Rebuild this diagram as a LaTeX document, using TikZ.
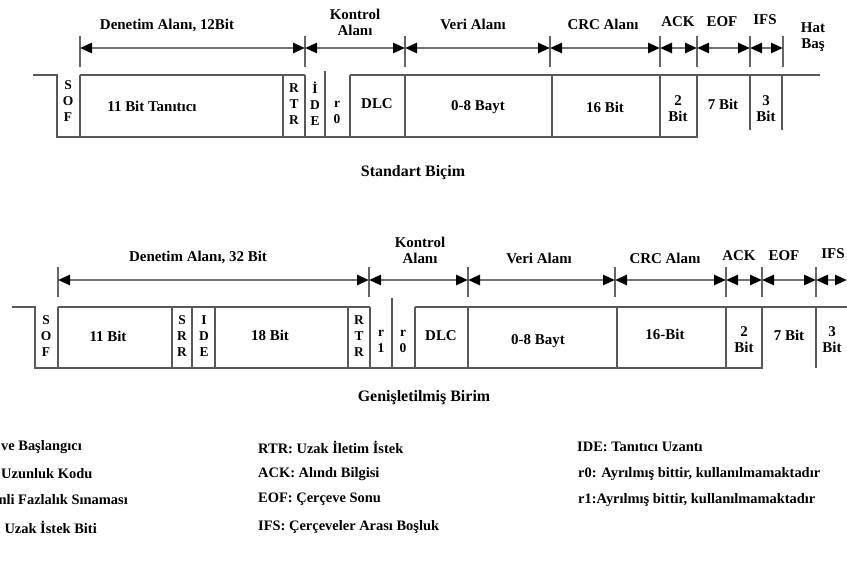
\documentclass[tikz,border=0pt]{standalone}
\usepackage{fontspec}
\setmainfont{Liberation Serif}
\usetikzlibrary{arrows.meta,positioning}

\tikzset{
  hat/.style={line width=1.8bp, draw=black!65},
  cizgi/.style={line width=1.5bp, draw=black!60},
  olcu/.style={line width=2.6bp, draw=black!55,
    {Triangle[length=12bp,width=10bp,color=black]}-{Triangle[length=12bp,width=10bp,color=black]}},
  etiket/.style={font=\bfseries\fontsize{15}{16}\selectfont, inner sep=0pt, align=center},
  harf/.style={etiket, font=\bfseries\fontsize{13.5}{16}\selectfont},
  baslik/.style={font=\bfseries\fontsize{16}{18}\selectfont, inner sep=0pt},
  aciklama/.style={font=\bfseries\fontsize{14.5}{16}\selectfont, inner sep=0pt}
}

\begin{document}
\begin{tikzpicture}[x=1bp, y=-1bp]
	\useasboundingbox (0,0) rectangle (847,581);
	
	% --- 1. Standart biçim: çerçeve ---
	\draw[hat] (33,75) -- (57,75) -- (57,137) -- (697,137) -- (697,75);
	\draw[hat] (80,75) -- (305,75);
	\draw[hat] (350,75) -- (820,75);
	\foreach \x in {80,283,305,350,405,552,660}
		\draw[hat] (\x,75) -- (\x,137);
	\draw[hat] (325,71) -- (325,137);
	\foreach \x in {750,782}
		\draw[hat] (\x,75) -- (\x,130);
	
	% --- 2. Standart biçim: ölçü okları ---
	\foreach \n/\x in {a/80,b/305,c/405,d/550,e/660,f/697,g/750,h/783} {
		\coordinate (s\n) at (\x,48);
		\draw[cizgi] (\x,36) -- (\x,67);
	}
	\foreach \p/\q in {a/b,b/c,c/d,d/e,e/f,f/g,g/h}
		\draw[olcu] (s\p) -- (s\q);
	
	% --- 3. Standart biçim: etiketler ---
	\node[etiket] (sDen) at (167,25) {Denetim Alanı, 12Bit};
	\node[etiket] (sKon) at (355,22) {Kontrol\\Alanı};
	\node[etiket] (sVer) at (473,24) {Veri Alanı};
	\node[etiket] (sCrc) at (603,24) {CRC Alanı};
	\node[etiket] (sAck) at (678,22) {ACK};
	\node[etiket] (sEof) at (722,22) {EOF};
	\node[etiket] (sIfs) at (765,20) {IFS};
	\node[etiket] (sHat) at (813,37) {Hat\\Baş};
	
	\node[harf] (sSof) at (68,101) {S\\O\\F};
	\node[etiket] (sTan) at (152,106) {11 Bit Tanıtıcı};
	\node[harf] (sRtr) at (294,104) {R\\T\\R};
	\node[harf] (sIde) at (315,104) {İ\\D\\E};
	\node[harf] (sR0) at (337,112) {r\\0};
	\node[etiket] (sDlc) at (377,104) {DLC};
	\node[etiket] (sVeri) at (478,107) {0-8 Bayt};
	\node[etiket] (sCrcB) at (605,107) {16 Bit};
	\node[etiket] (sAckB) at (678,109) {2\\Bit};
	\node[etiket] (sEofB) at (723,104) {7 Bit};
	\node[etiket] (sIfsB) at (766,109) {3\\Bit};
	
	\node[baslik] (stdB) at (413,173) {Standart Biçim};
	
	% --- 4. Genişletilmiş biçim: çerçeve ---
	\draw[hat] (12,307) -- (35,307) -- (35,368) -- (762,368) -- (762,307);
	\draw[hat] (58,307) -- (370,307);
	\draw[hat] (415,307) -- (847,307);
	\foreach \x in {58,172,192,215,348,370,415,468,617,726}
		\draw[hat] (\x,307) -- (\x,368);
	\draw[hat] (392,298) -- (392,368);
	\draw[hat] (816,307) -- (816,368);
	
	% --- 5. Genişletilmiş biçim: ölçü okları ---
	\foreach \n/\x in {a/58,b/369,c/468,d/615,e/726,f/762,g/816} {
		\coordinate (g\n) at (\x,280);
		\draw[cizgi] (\x,267) -- (\x,297);
	}
	\coordinate (gh) at (847,280);
	\foreach \p/\q in {a/b,b/c,c/d,d/e,e/f,f/g,g/h}
		\draw[olcu] (g\p) -- (g\q);
	
	% --- 6. Genişletilmiş biçim: etiketler ---
	\node[etiket] (gDen) at (198,257) {Denetim Alanı, 32 Bit};
	\node[etiket] (gKon) at (420,250) {Kontrol\\Alanı};
	\node[etiket] (gVer) at (539,258) {Veri Alanı};
	\node[etiket] (gCrc) at (665,258) {CRC Alanı};
	\node[etiket] (gAck) at (739,256) {ACK};
	\node[etiket] (gEof) at (784,256) {EOF};
	\node[etiket] (gIfs) at (833,254) {IFS};
	
	\node[harf] (gSof) at (46,336) {S\\O\\F};
	\node[etiket] (gId) at (108,336) {11 Bit};
	\node[harf] (gSrr) at (182,336) {S\\R\\R};
	\node[harf] (gIde) at (204,336) {I\\D\\E};
	\node[etiket] (gUz) at (270,335) {18 Bit};
	\node[harf] (gRtr) at (359,336) {R\\T\\R};
	\node[harf] (gR1) at (381,341) {r\\1};
	\node[harf] (gR0) at (403,341) {r\\0};
	\node[etiket] (gDlc) at (441,336) {DLC};
	\node[etiket] (gVeri) at (538,341) {0-8 Bayt};
	\node[etiket] (gCrcB) at (665,334) {16-Bit};
	\node[etiket] (gAckB) at (744,340) {2\\Bit};
	\node[etiket] (gEofB) at (789,335) {7 Bit};
	\node[etiket] (gIfsB) at (832,340) {3\\Bit};
	
	\node[baslik] (genB) at (424,398) {Genişletilmiş Birim};
	
	% --- 7. Kısaltmalar ---
	\node[aciklama, anchor=east] (k1) at (82,447) {ve Başlangıcı};
	\node[aciklama, anchor=west] (k2) at (1,474) {Uzunluk Kodu};
	\node[aciklama, anchor=east] (k3) at (128,500) {nli Fazlalık Sınaması};
	\node[aciklama, anchor=east] (k4) at (97,527) {Uzak İstek Biti};
	\node[aciklama, anchor=west] (k5) at (258,447) {RTR: Uzak İletim İstek};
	\node[aciklama, anchor=west] (k6) at (258,474) {ACK: Alındı Bilgisi};
	\node[aciklama, anchor=west] (k7) at (258,499) {EOF: Çerçeve Sonu};
	\node[aciklama, anchor=west] (k8) at (258,527) {IFS: Çerçeveler Arası Boşluk};
	\node[aciklama, anchor=west] (k9) at (577,447) {IDE: Tanıtıcı Uzantı};
	\node[aciklama, anchor=west] (k10) at (578,474) {r0: Ayrılmış bittir, kullanılmamaktadır};
	\node[aciklama, anchor=west] (k11) at (578,500) {r1:Ayrılmış bittir, kullanılmamaktadır};
\end{tikzpicture}
\end{document}
